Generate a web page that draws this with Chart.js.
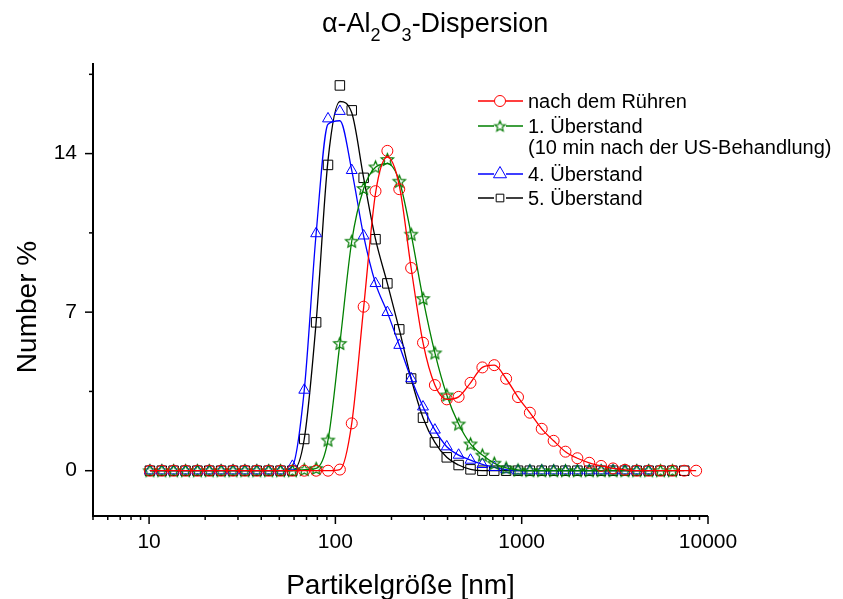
<!DOCTYPE html>
<html>
<head>
<meta charset="utf-8">
<script src="https://cdn.jsdelivr.net/npm/chart.js@4.4.1/dist/chart.umd.min.js"></script>
<style>
  body { margin: 0; background: #fff; }
  canvas { display: block; }
</style>
</head>
<body>
<canvas id="chart" width="843" height="599"></canvas>
<script>
// --- Data (size classes in nm, number %) ---
const sizes = [10.1, 11.7, 13.54, 15.69, 18.17, 21.04, 24.36, 28.21, 32.67, 37.84, 43.82, 50.75,
    58.77, 68.06, 78.82, 91.28, 105.7, 122.4, 141.8, 164.2, 190.1, 220.2, 255, 295.3, 342, 396.1,
    458.7, 531.2, 615.1, 712.4, 825, 955.4, 1106, 1281, 1484, 1718, 1990, 2305, 2669, 3091, 3580,
    4145, 4801, 5560, 6439, 7456, 8635];

// measured points
const afterStirring = [0, 0, 0, 0, 0, 0, 0, 0, 0, 0, 0, 0, 0, 0, 0, 0, 0.05, 2.09, 7.24, 12.34,
    14.12, 12.43, 8.95, 5.65, 3.78, 3.15, 3.26, 3.88, 4.56, 4.66, 4.06, 3.25, 2.56, 1.85, 1.32,
    0.84, 0.55, 0.35, 0.21, 0.1, 0.04, 0, 0, 0, 0, 0, 0];
const supernatant1 = [0, 0, 0, 0, 0, 0, 0, 0, 0, 0, 0, 0, 0, 0.05, 0.1, 1.35, 5.62, 10.13, 12.46,
    13.41, 13.74, 12.78, 10.44, 7.6, 5.2, 3.34, 2.06, 1.18, 0.69, 0.33, 0.12, 0.03, 0, 0, 0, 0, 0,
    0, 0, 0, 0, 0, 0, 0, 0];
const supernatant4 = [0, 0, 0, 0, 0, 0, 0, 0, 0, 0, 0, 0, 0.2, 3.56, 10.47, 15.54, 15.87, 13.26,
    10.37, 8.27, 6.99, 5.54, 4.07, 2.82, 1.8, 1.06, 0.69, 0.47, 0.28, 0.15, 0.05, 0, 0, 0, 0, 0, 0,
    0, 0, 0, 0, 0, 0];
const supernatant5 = [0, 0, 0, 0, 0, 0, 0, 0, 0, 0, 0, 0, 0, 1.4, 6.55, 13.5, 17.01, 15.91, 12.93,
    10.22, 8.27, 6.24, 4.07, 2.34, 1.25, 0.59, 0.25, 0.06, 0, 0, 0, 0, 0, 0, 0, 0, 0, 0, 0, 0, 0,
    0, 0, 0, 0, 0];

// smoothed curves (differ from the points near the peaks)
const afterStirringCurve = [0, 0, 0, 0, 0, 0, 0, 0, 0, 0, 0, 0, 0, 0, 0, 0, 0.05, 2.09, 7.2, 12.25,
    13.85, 12.6, 8.95, 5.65, 3.78, 3.15, 3.26, 3.88, 4.56, 4.66, 4.06, 3.25, 2.56, 1.85, 1.32,
    0.84, 0.55, 0.35, 0.21, 0.1, 0.04, 0, 0, 0, 0, 0, 0];
const supernatant1Curve = [0, 0, 0, 0, 0, 0, 0, 0, 0, 0, 0, 0, 0, 0.05, 0.1, 1.35, 5.62, 10.13,
    12.46, 13.4, 13.56, 12.8, 10.44, 7.6, 5.2, 3.34, 2.06, 1.18, 0.69, 0.33, 0.12, 0.03, 0, 0, 0,
    0, 0, 0, 0, 0, 0, 0, 0, 0, 0];
const supernatant4Curve = [0, 0, 0, 0, 0, 0, 0, 0, 0, 0, 0, 0, 0.2, 3.56, 10.47, 15.3, 15.45,
    13.26, 10.37, 8.27, 6.99, 5.54, 4.07, 2.82, 1.8, 1.06, 0.69, 0.47, 0.28, 0.15, 0.05, 0, 0, 0,
    0, 0, 0, 0, 0, 0, 0, 0, 0];
const supernatant5Curve = [0, 0, 0, 0, 0, 0, 0, 0, 0, 0, 0, 0, 0, 1.4, 6.55, 13.7, 16.3, 15.8,
    12.93, 10.22, 8.27, 6.24, 4.07, 2.34, 1.25, 0.59, 0.25, 0.06, 0, 0, 0, 0, 0, 0, 0, 0, 0, 0, 0,
    0, 0, 0, 0, 0, 0, 0];

const xTickLabels = [10, 100, 1000, 10000];
const yTickLabels = [0, 7, 14];
const legendLabels = ['nach dem Rühren', '1. Überstand', '(10 min nach der US-Behandlung)',
    '4. Überstand', '5. Überstand'];

const FONT = "'Liberation Sans', Arial, sans-serif";

// --- Helpers ---
function toPoints(values) {
    return values.map((v, i) => ({ x: sizes[i], y: v }));
}

function starImage(color, r) {
    const c = document.createElement('canvas');
    const size = Math.ceil(r * 2 + 4);
    c.width = size;
    c.height = size;
    const g = c.getContext('2d');
    g.strokeStyle = color;
    g.lineWidth = 1.2;
    g.lineJoin = 'miter';
    g.beginPath();
    for (let i = 0; i < 10; i++) {
        const ang = -Math.PI / 2 + i * Math.PI / 5;
        const rr = i % 2 ? r * 0.45 : r;
        g.lineTo(size / 2 + rr * Math.cos(ang), size / 2 + rr * Math.sin(ang) + 0.5);
    }
    g.closePath();
    g.stroke();
    return c;
}

const greenStar = starImage('#007a00', 6.5);
const greenStarSmall = starImage('#007a00', 5.5);

const series = [
    { pts: afterStirring, curve: afterStirringCurve, color: '#ff0000', style: 'circle', radius: 5.5 },
    { pts: supernatant1, curve: supernatant1Curve, color: '#008000', style: greenStar, radius: 6 },
    { pts: supernatant4, curve: supernatant4Curve, color: '#0000ff', style: 'triangle', radius: 6.3 },
    { pts: supernatant5, curve: supernatant5Curve, color: '#000000', style: 'rect', radius: 6.7 }
];

const datasets = [];
series.forEach(s => {
    datasets.push({
        data: toPoints(s.curve),
        borderColor: s.color,
        borderWidth: 1.3,
        pointRadius: 0,
        fill: false,
        cubicInterpolationMode: 'monotone'
    });
    datasets.push({
        data: toPoints(s.pts),
        showLine: false,
        pointStyle: s.style,
        pointRadius: s.radius,
        pointBorderWidth: 1,
        pointBorderColor: s.color,
        pointBackgroundColor: 'rgba(0,0,0,0)'
    });
});

// --- Axes, ticks, titles and legend drawn on top ---
const overlay = {
    id: 'overlay',
    afterDraw(chart) {
        const ctx = chart.ctx;
        const area = chart.chartArea;
        const xs = chart.scales.x;
        const ys = chart.scales.y;
        ctx.save();
        ctx.strokeStyle = '#000';
        ctx.fillStyle = '#000';

        // axis lines
        ctx.lineWidth = 2;
        ctx.beginPath();
        ctx.moveTo(area.left, area.top);
        ctx.lineTo(area.left, area.bottom);
        ctx.lineTo(area.right, area.bottom);
        ctx.stroke();

        // x tick marks
        ctx.lineWidth = 1.5;
        for (let e = 0; e <= 4; e++) {
            for (let m = 1; m <= 9; m++) {
                const v = m * Math.pow(10, e);
                if (v < 5 || v > 10000) continue;
                const px = xs.getPixelForValue(v);
                const len = m === 1 ? 8 : 4;
                ctx.beginPath();
                ctx.moveTo(px, area.bottom);
                ctx.lineTo(px, area.bottom + len);
                ctx.stroke();
            }
        }
        // y tick marks
        [0, 3.5, 7, 10.5, 14, 17.5].forEach(v => {
            const py = ys.getPixelForValue(v);
            const len = v % 7 === 0 ? 8 : 4;
            ctx.beginPath();
            ctx.moveTo(area.left, py);
            ctx.lineTo(area.left - len, py);
            ctx.stroke();
        });

        // title with subscripts
        let tx = 322;
        const ty = 32;
        ctx.textBaseline = 'alphabetic';
        ctx.textAlign = 'left';
        [['α-Al', 0], ['2', 1], ['O', 0], ['3', 1], ['-Dispersion', 0]].forEach(([t, sub]) => {
            ctx.font = (sub ? '18px ' : '27px ') + FONT;
            ctx.fillText(t, tx, sub ? ty + 9 : ty);
            tx += ctx.measureText(t).width;
        });

        // axis titles
        ctx.font = '28px ' + FONT;
        ctx.textAlign = 'center';
        ctx.fillText('Partikelgröße [nm]', (area.left + area.right) / 2, 594);
        ctx.save();
        ctx.translate(36, 307);
        ctx.rotate(-Math.PI / 2);
        ctx.fillText('Number %', 0, 0);
        ctx.restore();

        // legend
        const rows = [
            { y: 101, s: series[0], text: legendLabels[0], r: 5.5 },
            { y: 126, s: series[1], text: legendLabels[1], img: greenStarSmall },
            { y: 147, text: legendLabels[2] },
            { y: 174, s: series[2], text: legendLabels[3], r: 7.5 },
            { y: 198, s: series[3], text: legendLabels[4], r: 5.4 }
        ];
        ctx.font = '20px ' + FONT;
        ctx.textAlign = 'left';
        ctx.textBaseline = 'middle';
        rows.forEach(row => {
            if (row.s) {
                ctx.strokeStyle = row.s.color;
                ctx.lineWidth = 1.3;
                ctx.beginPath();
                ctx.moveTo(478, row.y);
                ctx.lineTo(494, row.y);
                ctx.moveTo(506, row.y);
                ctx.lineTo(523, row.y);
                ctx.stroke();
                ctx.fillStyle = 'rgba(0,0,0,0)';
                ctx.lineWidth = 1;
                Chart.helpers.drawPoint(ctx, {
                    pointStyle: row.img || row.s.style,
                    radius: row.r || 6,
                    rotation: 0,
                    borderWidth: 1
                }, 500, row.y);
            }
            ctx.fillStyle = '#000';
            ctx.fillText(row.text, 528, row.y + 1);
        });
        ctx.restore();
    }
};

// --- Chart ---
new Chart(document.getElementById('chart'), {
    type: 'line',
    data: { datasets: datasets },
    plugins: [overlay],
    options: {
        responsive: false,
        animation: false,
        layout: { padding: { top: 63, right: 135, left: 0, bottom: 0 } },
        plugins: {
            legend: { display: false },
            title: { display: false },
            tooltip: { enabled: false }
        },
        scales: {
            x: {
                type: 'logarithmic',
                min: 5,
                max: 10000,
                afterFit(scale) { scale.height = 83; },
                afterBuildTicks(scale) { scale.ticks = xTickLabels.map(v => ({ value: v })); },
                grid: { display: false, drawTicks: true, tickLength: 8 },
                border: { display: false },
                ticks: {
                    autoSkip: false,
                    maxRotation: 0,
                    padding: 6,
                    color: '#000',
                    font: { family: FONT, size: 21 },
                    callback: v => String(v)
                }
            },
            y: {
                min: -2,
                max: 18,
                afterFit(scale) { scale.width = 93; },
                afterBuildTicks(scale) { scale.ticks = yTickLabels.map(v => ({ value: v })); },
                grid: { display: false, drawTicks: true, tickLength: 8 },
                border: { display: false },
                ticks: {
                    padding: 8,
                    color: '#000',
                    font: { family: FONT, size: 21 },
                    callback: v => String(v)
                }
            }
        }
    }
});
</script>
</body>
</html>
